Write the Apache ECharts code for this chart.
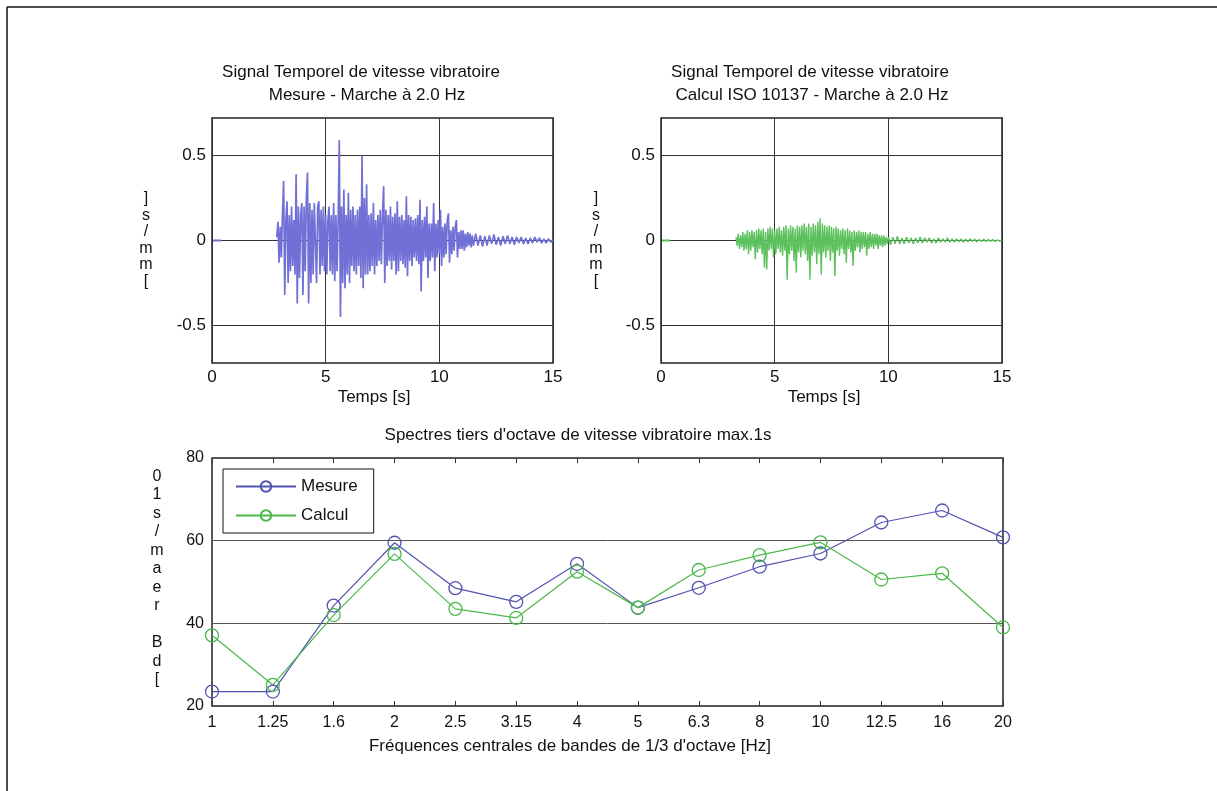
<!DOCTYPE html>
<html>
<head>
<meta charset="utf-8">
<script src="https://cdn.jsdelivr.net/npm/echarts@6/dist/echarts.min.js"></script>
<style>html,body{margin:0;padding:0;background:#fff;}#c{width:1217px;height:791px;}</style>
</head>
<body>
<div id="c"></div>
<script>
// ---------------- DATA ----------------
const titleLeft1 = 'Signal Temporel de vitesse vibratoire';
const titleLeft2 = 'Mesure - Marche à 2.0 Hz';
const titleRight1 = 'Signal Temporel de vitesse vibratoire';
const titleRight2 = 'Calcul ISO 10137 - Marche à 2.0 Hz';
const titleBottom = "Spectres tiers d'octave de vitesse vibratoire max.1s";
const timeAxisName = 'Temps [s]';
const freqAxisName = "Fréquences centrales de bandes de 1/3 d'octave [Hz]";
const velocityUnit = '[mm/s]';
const levelUnitChars = ['0', '1', 's', '/', 'm', 'a', 'e', 'r', ' ', 'B', 'd', '['];

const timeTicks = [0, 5, 10, 15];
const velocityTicks = [-0.5, 0, 0.5];
const levelTicks = [20, 40, 60, 80];

// time signal: measured (sampled bursts)
const mesureLeadTimes = [0.05, 0.4];
const mesureLeadValues = [0, 0];
const mesureBurstStart = 2.85;
const mesureBurstStep = 0.05;
const mesureBurst = [
  0.02, 0.11, -0.13, 0.08, -0.10, 0.15, 0.35, -0.32, 0.12, 0.23,
  -0.25, 0.15, -0.18, 0.20, -0.15, 0.12, -0.20, 0.39, -0.37, 0.20,
  -0.22, 0.15, 0.22, -0.32, 0.20, -0.18, 0.25, 0.40, -0.37, 0.22,
  -0.25, 0.18, -0.20, 0.22, 0.23, -0.25, 0.20, 0.23, -0.20, 0.18,
  -0.15, 0.20, -0.18, 0.15, -0.20, 0.12, 0.20, -0.18, 0.15, -0.20,
  0.22, -0.24, 0.15, -0.18, 0.12, 0.59, -0.45, 0.20, -0.25, 0.30,
  -0.28, 0.15, -0.20, 0.28, -0.25, 0.18, -0.15, 0.20, -0.18, 0.15,
  -0.20, 0.18, -0.15, 0.20, -0.22, 0.50, -0.28, 0.25, -0.20, 0.33,
  -0.20, 0.15, -0.18, 0.16, -0.15, 0.22, -0.20, 0.12, -0.15, 0.15,
  -0.12, 0.18, -0.14, 0.15, 0.32, -0.25, 0.18, -0.15, 0.15, -0.12,
  0.20, -0.17, 0.14, -0.12, 0.16, -0.20, 0.23, -0.18, 0.14, -0.12,
  0.15, -0.14, 0.12, -0.16, 0.26, -0.21, 0.15, -0.12, 0.14, -0.15,
  0.12, -0.10, 0.13, -0.12, 0.15, -0.14, 0.24, -0.30, 0.12, -0.12,
  0.14, -0.10, 0.20, -0.22, 0.10, -0.12, 0.10, -0.10, 0.22, -0.18,
  0.10, -0.10, 0.12, -0.08, 0.18, -0.15, 0.08, -0.10, 0.10, -0.08,
  0.12, 0.16, -0.13, 0.06, -0.08, 0.08, -0.06, 0.08, 0.12, -0.10,
  0.05, -0.05, 0.06, -0.05, 0.06, -0.06, 0.04, -0.04, 0.05, -0.03,
  0.04, -0.04, 0.03, -0.03
];
const mesureTailStart = 11.6;
const mesureTailStep = 0.1;
const mesureTail = [
  0.04, -0.03, 0.03, -0.035, 0.025, -0.03, 0.03, -0.02, 0.035, -0.025,
  0.02, -0.03, 0.025, -0.02, 0.03, -0.02, 0.02, -0.025, 0.02, -0.015,
  0.02, -0.02, 0.015, -0.02, 0.015, -0.015, 0.02, -0.01, 0.015, -0.015,
  0.01, -0.015, 0.01, -0.01, 0.005
];

// time signal: ISO 10137 calculation
const calculLeadTimes = [0.05, 0.4];
const calculLeadValues = [0, 0];
const calculBurstStart = 3.30;
const calculBurstStep = 0.05;
const calculBurst = [
  0.02, -0.03, 0.04, -0.05, 0.03, -0.04, 0.05, -0.06, 0.04, -0.05,
  0.06, -0.08, 0.05, -0.06, 0.06, -0.04, 0.05, -0.11, 0.06, -0.07,
  0.07, -0.05, 0.06, -0.08, 0.07, -0.16, 0.05, -0.17, 0.07, -0.06,
  0.08, -0.05, 0.07, -0.10, 0.06, -0.08, 0.07, -0.05, 0.08, -0.07,
  0.06, -0.09, 0.08, -0.06, 0.09, -0.23, 0.07, -0.08, 0.09, -0.06,
  0.08, -0.12, 0.07, -0.19, 0.09, -0.07, 0.08, -0.10, 0.09, -0.06,
  0.10, -0.08, 0.08, -0.12, 0.10, -0.23, 0.08, -0.09, 0.10, -0.07,
  0.09, -0.14, 0.11, -0.08, 0.13, -0.20, 0.10, -0.07, 0.09, -0.10,
  0.08, -0.06, 0.09, -0.12, 0.08, -0.07, 0.07, -0.21, 0.08, -0.06,
  0.07, -0.09, 0.06, -0.05, 0.07, -0.08, 0.06, -0.13, 0.07, -0.05,
  0.06, -0.07, 0.05, -0.15, 0.06, -0.06, 0.05, -0.04, 0.06, -0.07,
  0.05, -0.05, 0.05, -0.04, 0.05, -0.09, 0.04, -0.05, 0.05, -0.04,
  0.04, -0.05, 0.04, -0.03, 0.04, -0.05, 0.03, -0.03, 0.03, -0.04,
  0.03, -0.03, 0.02, -0.02
];
const calculTailStart = 10.0;
const calculTailStep = 0.1;
const calculTail = [
  0.02, -0.025, 0.02, -0.02, 0.025, -0.02, 0.015, -0.02, 0.02, -0.015,
  0.015, -0.02, 0.015, -0.015, 0.02, -0.015, 0.015, -0.01, 0.015, -0.015,
  0.01, -0.015, 0.015, -0.01, 0.01, -0.01, 0.015, -0.01, 0.01, -0.01,
  0.01, -0.008, 0.01, -0.01, 0.008, -0.008, 0.01, -0.006, 0.008, -0.008,
  0.006, -0.006, 0.008, -0.006, 0.006, -0.005, 0.005, -0.005, 0.004, -0.004, 0.003
];

// third-octave spectra
const freqLabels = ['1', '1.25', '1.6', '2', '2.5', '3.15', '4', '5', '6.3', '8', '10', '12.5', '16', '20'];
const mesureSpectrum = [23.5, 23.5, 44.3, 59.5, 48.5, 45.2, 54.4, 43.8, 48.6, 53.7, 56.9, 64.4, 67.3, 60.8];
const calculSpectrum = [37.1, 25.1, 42.0, 56.8, 43.5, 41.3, 52.5, 43.8, 52.9, 56.5, 59.6, 50.6, 52.1, 39.0];
const seriesNames = ['Mesure', 'Calcul'];

// ---------------- BUILD ----------------
function sampled(start, step, values) {
  return values.map((v, i) => [Math.round((start + i * step) * 1000) / 1000, v]);
}
function pairs(ts, vs) { return ts.map((t, i) => [t, vs[i]]); }

const mesureSignal = sampled(mesureBurstStart, mesureBurstStep, mesureBurst)
  .concat(sampled(mesureTailStart, mesureTailStep, mesureTail));
const calculSignal = sampled(calculBurstStart, calculBurstStep, calculBurst)
  .concat(sampled(calculTailStart, calculTailStep, calculTail));

const FONT = 'Liberation Sans';
const BLUE = '#5252b2';
const GREEN = '#4cb84c';
const SIG_BLUE = '#7070d6';
const SIG_GREEN = '#5cc05c';
const TXT = '#111';

function timeXAxis(g) {
  return {
    type: 'value', gridIndex: g, min: timeTicks[0], max: timeTicks[timeTicks.length - 1], interval: 5,
    axisLine: { show: false }, axisTick: { show: false },
    axisLabel: { color: TXT, fontFamily: FONT, fontSize: 17, margin: 6 },
    splitLine: { show: true, lineStyle: { color: '#333', width: 1 } }
  };
}
function velYAxis(g) {
  return {
    type: 'value', gridIndex: g, min: -0.72, max: 0.72,
    axisLine: { show: false },
    axisTick: { show: false, customValues: velocityTicks },
    axisLabel: { color: TXT, fontFamily: FONT, fontSize: 17, margin: 6, customValues: velocityTicks },
    splitLine: { show: true, lineStyle: { color: '#333', width: 1 } }
  };
}
const gridStyle = { show: true, borderColor: '#222', borderWidth: 1.5, backgroundColor: '#fff' };

function txt(x, y, s, size, align) {
  return { type: 'text', x: x, y: y, style: { text: s, fill: TXT, font: (size || 17) + 'px "' + FONT + '"', textAlign: align || 'center', textVerticalAlign: 'middle' } };
}
function stacked(x, y, chars, lh) {
  return { type: 'text', x: x, y: y, style: { text: chars.join('\n'), fill: TXT, font: '16px "' + FONT + '"', lineHeight: lh, textAlign: 'center', textVerticalAlign: 'middle' } };
}
const unitChars = velocityUnit.split('').reverse();

function spectrumSeries(name, data, color) {
  return {
    type: 'line', name: name, xAxisIndex: 2, yAxisIndex: 2, data: data,
    symbol: 'circle', symbolSize: 13, color: color,
    lineStyle: { color: color, width: 1.2 },
    itemStyle: { color: 'rgba(255,255,255,0)', borderColor: color, borderWidth: 1.3 }
  };
}

const option = {
  animation: false,
  backgroundColor: '#fff',
  grid: [
    Object.assign({ left: 212, top: 118, width: 341, height: 245 }, gridStyle),
    Object.assign({ left: 661, top: 118, width: 341, height: 245 }, gridStyle),
    Object.assign({ left: 212, top: 458, width: 791, height: 248 }, gridStyle)
  ],
  xAxis: [
    timeXAxis(0), timeXAxis(1),
    {
      type: 'category', gridIndex: 2, data: freqLabels, boundaryGap: false,
      axisLine: { show: false },
      axisTick: { show: true, inside: true, length: 5, lineStyle: { color: '#333' } },
      axisLabel: { color: TXT, fontFamily: FONT, fontSize: 16, margin: 9, interval: 0 },
      splitLine: { show: false }
    },
    {
      type: 'category', gridIndex: 2, data: freqLabels, boundaryGap: false, position: 'top',
      axisLine: { show: false },
      axisTick: { show: true, inside: true, length: 5, lineStyle: { color: '#333' } },
      axisLabel: { show: false }, splitLine: { show: false }
    }
  ],
  yAxis: [
    velYAxis(0), velYAxis(1),
    {
      type: 'value', gridIndex: 2, min: levelTicks[0], max: levelTicks[levelTicks.length - 1], interval: 20,
      axisLine: { show: false }, axisTick: { show: false },
      axisLabel: { color: TXT, fontFamily: FONT, fontSize: 16, margin: 8 },
      splitLine: { show: true, lineStyle: { color: '#555', width: 1 } }
    }
  ],
  legend: {
    data: seriesNames, orient: 'vertical', left: 223, top: 469,
    borderColor: '#111', borderWidth: 1, backgroundColor: '#fff',
    padding: [9, 16, 9, 12], itemWidth: 60, itemHeight: 13, itemGap: 12,
    textStyle: { color: TXT, fontFamily: FONT, fontSize: 17 }
  },
  series: [
    { type: 'line', name: 'mesureLead', xAxisIndex: 0, yAxisIndex: 0, data: pairs(mesureLeadTimes, mesureLeadValues), showSymbol: false, lineStyle: { color: SIG_BLUE, width: 2 } },
    { type: 'line', name: 'mesureSignal', xAxisIndex: 0, yAxisIndex: 0, data: mesureSignal, showSymbol: false, lineStyle: { color: SIG_BLUE, width: 1.7 } },
    { type: 'line', name: 'calculLead', xAxisIndex: 1, yAxisIndex: 1, data: pairs(calculLeadTimes, calculLeadValues), showSymbol: false, lineStyle: { color: SIG_GREEN, width: 2 } },
    { type: 'line', name: 'calculSignal', xAxisIndex: 1, yAxisIndex: 1, data: calculSignal, showSymbol: false, lineStyle: { color: SIG_GREEN, width: 1.4 } },
    spectrumSeries(seriesNames[0], mesureSpectrum, BLUE),
    spectrumSeries(seriesNames[1], calculSpectrum, GREEN)
  ],
  graphic: [
    { type: 'line', shape: { x1: 7, y1: 7, x2: 1217, y2: 7 }, style: { stroke: '#111', lineWidth: 1.5 } },
    { type: 'line', shape: { x1: 7, y1: 7, x2: 7, y2: 791 }, style: { stroke: '#111', lineWidth: 1.5 } },
    txt(361, 72, titleLeft1), txt(367, 95, titleLeft2),
    txt(810, 72, titleRight1), txt(812, 95, titleRight2),
    txt(374, 397, timeAxisName), txt(824, 397, timeAxisName),
    txt(578, 435, titleBottom), txt(570, 746, freqAxisName),
    stacked(146, 240, unitChars, 16.5),
    stacked(596, 240, unitChars, 16.5),
    stacked(157, 578, levelUnitChars, 18.5)
  ]
};

const chart = echarts.init(document.getElementById('c'), null, { renderer: 'canvas' });
chart.setOption(option);
</script>
</body>
</html>
